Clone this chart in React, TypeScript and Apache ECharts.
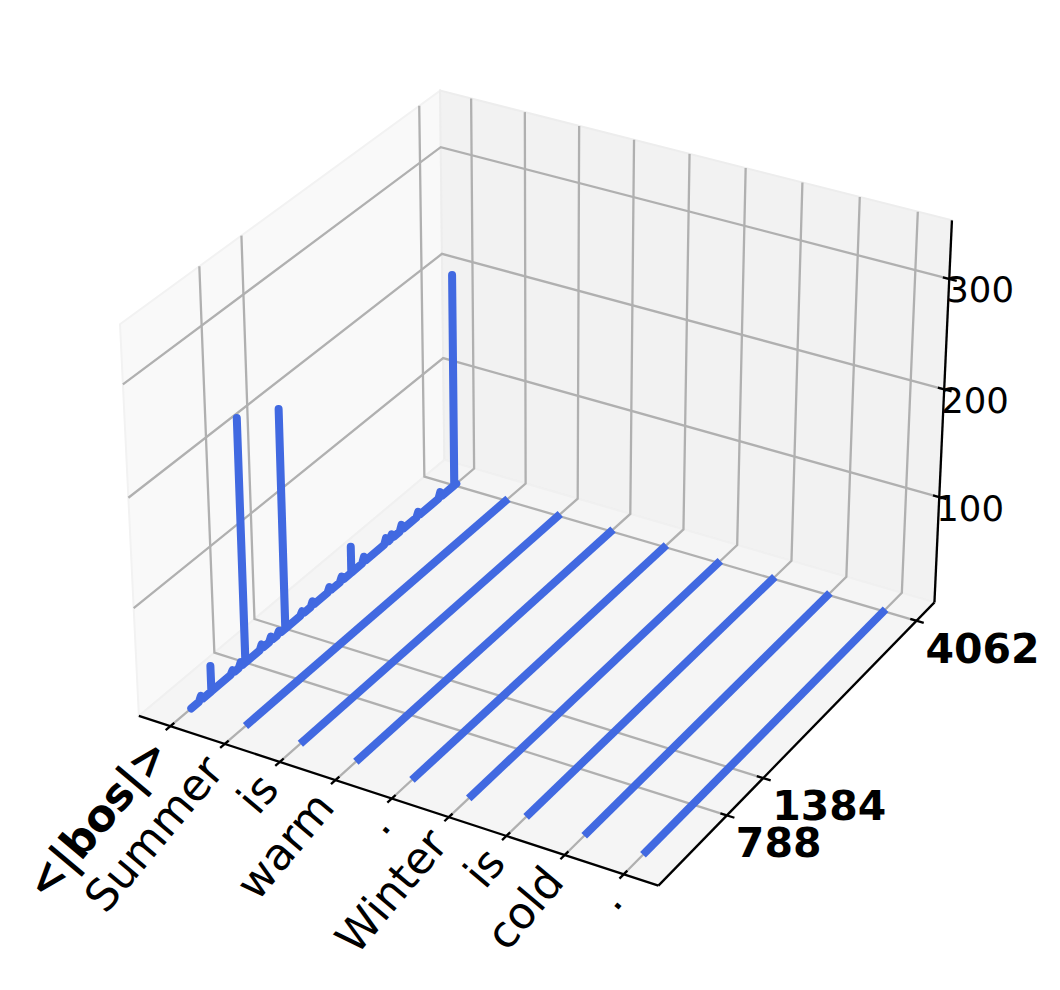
import React, { useEffect, useRef } from "react";
import * as echarts from "echarts";

// ---- data ----
const tokens = ["<|bos|>", "Summer", "is", "warm", ".", "Winter", "is", "cold", "."];
const boldTokens = [0];
const neuronTicks = [788, 1384, 4062];
const valueTicks = [100, 200, 300];
const neuronFirst = 0;
const neuronLast = 4096;
const spikeNeurons = [140, 290, 600, 720, 788, 1030, 1170, 1290, 1384, 1640, 1800, 2060, 2250, 2400, 2600, 2950, 3040, 3200, 3470, 3830, 4062];
const spikeValues = [4, 24, 3, 4, 226, 4, 4, 3, 205, 3, 4, 4, 4, 25, 5, 5, 4, 5, 4, 5, 203];

// ---- limits of the 3D box ----
const xLim = [-0.583, 8.583];
const yLim = [-299, 4394];
const zLim = [0, 352];

// ---- matplotlib-style perspective camera (elev 30, azim -60) ----
const HALF = [0.5952, 0.5952, 0.4464];
const DIST = 10;
const SCALE = 500;
const CX = 544;
const CY = 469;
const el = (30 * Math.PI) / 180;
const az = (-60 * Math.PI) / 180;
const W = [Math.cos(el) * Math.cos(az), Math.cos(el) * Math.sin(az), Math.sin(el)];
const U = [-Math.sin(az), Math.cos(az), 0];
const V = [W[1] * U[2] - W[2] * U[1], W[2] * U[0] - W[0] * U[2], W[0] * U[1] - W[1] * U[0]];
const dot = (a: number[], b: number[]) => a[0] * b[0] + a[1] * b[1] + a[2] * b[2];

function project(x: number, y: number, z: number): [number, number] {
  const p = [
    ((x - xLim[0]) / (xLim[1] - xLim[0]) - 0.5) * 2 * HALF[0],
    ((y - yLim[0]) / (yLim[1] - yLim[0]) - 0.5) * 2 * HALF[1],
    ((z - zLim[0]) / (zLim[1] - zLim[0]) - 0.5) * 2 * HALF[2],
  ];
  const f = DIST / (DIST - dot(p, W));
  return [CX + SCALE * dot(p, U) * f, CY - SCALE * dot(p, V) * f];
}

const [x0, x1] = xLim;
const [y0, y1] = yLim;
const [z0, z1] = zLim;
const xSpan = x1 - x0;
const ySpan = y1 - y0;

function lineSeries(points: [number, number][], color: string, width: number, z: number, cap = "butt") {
  return {
    type: "line",
    data: points,
    symbol: "none",
    silent: true,
    clip: false,
    z,
    animation: false,
    lineStyle: { color, width, cap, join: cap === "round" ? "round" : "miter", opacity: 1 },
  };
}

function pane(corners: [number, number, number][], fill: string, stroke: string) {
  return {
    type: "custom",
    coordinateSystem: "cartesian2d",
    silent: true,
    clip: false,
    z: 1,
    data: [[0, 0]],
    renderItem: (_: any, api: any) => ({
      type: "polygon",
      shape: { points: corners.map((c) => api.coord(project(c[0], c[1], c[2]))) },
      style: { fill, stroke, lineWidth: 2 },
    }),
  };
}

type Label = {
  text: string;
  at: [number, number];
  rotation?: number;
  align: string;
  size: number;
  bold: boolean;
};

function labelSeries(labels: Label[]) {
  return {
    type: "custom",
    coordinateSystem: "cartesian2d",
    silent: true,
    clip: false,
    z: 6,
    data: labels.map((_, i) => [i, 0]),
    renderItem: (params: any, api: any) => {
      const l = labels[params.dataIndex];
      const [px, py] = api.coord(l.at);
      return {
        type: "text",
        x: px,
        y: py,
        rotation: l.rotation || 0,
        style: {
          text: l.text,
          fontFamily: "DejaVu Sans",
          fontSize: l.size,
          fontWeight: l.bold ? "bold" : "normal",
          fill: "#000000",
          align: l.align,
          verticalAlign: "middle",
        },
      };
    },
  };
}

function buildOption() {
  const series: any[] = [];

  // panes
  series.push(pane([[x0, y0, z0], [x0, y1, z0], [x0, y1, z1], [x0, y0, z1]], "#f9f9f9", "#f2f2f2"));
  series.push(pane([[x0, y1, z0], [x1, y1, z0], [x1, y1, z1], [x0, y1, z1]], "#f2f2f2", "#ededed"));
  series.push(pane([[x0, y0, z0], [x1, y0, z0], [x1, y1, z0], [x0, y1, z0]], "#f5f5f5", "#f0f0f0"));

  // grid lines
  const grid = "#b0b0b0";
  tokens.forEach((_, i) => {
    series.push(lineSeries([project(i, y0, z0), project(i, y1, z0), project(i, y1, z1)], grid, 2.3, 2));
  });
  neuronTicks.forEach((n) => {
    series.push(lineSeries([project(x1, n, z0), project(x0, n, z0), project(x0, n, z1)], grid, 2.3, 2));
  });
  valueTicks.forEach((v) => {
    series.push(lineSeries([project(x0, y0, v), project(x0, y1, v), project(x1, y1, v)], grid, 2.3, 2));
  });

  // activation lines, one per token
  const lineW = 8;
  tokens.forEach((_, i) => {
    if (i === 0) {
      const pts: [number, number][] = [project(i, neuronFirst, 0)];
      spikeNeurons.forEach((n, k) => {
        const v = spikeValues[k];
        const flank = v < 10 ? 30 : 1;
        pts.push(project(i, n - flank, 0), project(i, n, v), project(i, n + flank, 0));
      });
      pts.push(project(i, neuronLast, 0));
      series.push(lineSeries(pts, "#4169e1", lineW, 3, "round"));
    } else {
      series.push(lineSeries([project(i, neuronFirst, 0), project(i, neuronLast, 0)], "#4169e1", lineW, 3));
    }
  });

  // axis lines
  const black = "#000000";
  series.push(lineSeries([project(x0, y0, z0), project(x1, y0, z0)], black, 2.3, 4));
  series.push(lineSeries([project(x1, y0, z0), project(x1, y1, z0)], black, 2.3, 4));
  series.push(lineSeries([project(x1, y1, z0), project(x1, y1, z1)], black, 2.3, 4));

  // tick marks
  const tIn = 0.012;
  const tOut = 0.014;
  tokens.forEach((_, i) => {
    series.push(lineSeries([project(i, y0 + tIn * ySpan, z0), project(i, y0 - tOut * ySpan, z0)], black, 2.3, 4));
  });
  neuronTicks.forEach((n) => {
    series.push(lineSeries([project(x1 - tIn * xSpan, n, z0), project(x1 + tOut * xSpan, n, z0)], black, 2.3, 4));
  });
  valueTicks.forEach((v) => {
    series.push(lineSeries([project(x1 - tIn * xSpan, y1, v), project(x1 + tOut * xSpan, y1, v)], black, 2.3, 4));
  });

  // tick labels
  const labels: Label[] = [];
  const rot = (50 * Math.PI) / 180;
  tokens.forEach((t, i) => {
    const p = project(i, y0, z0);
    labels.push({
      text: t,
      at: [p[0] - 11, p[1] + 18],
      rotation: rot,
      align: "right",
      size: 44,
      bold: boldTokens.includes(i),
    });
  });
  neuronTicks.forEach((n) => {
    const p = project(x1, n, z0);
    labels.push({ text: String(n), at: [p[0] + 9, p[1] + 28], align: "left", size: 41, bold: true });
  });
  valueTicks.forEach((v) => {
    const p = project(x1, y1, v);
    labels.push({ text: String(v), at: [p[0] - 3, p[1] + 11], align: "left", size: 35.5, bold: false });
  });
  series.push(labelSeries(labels));

  return {
    animation: false,
    backgroundColor: "#ffffff",
    grid: { left: 0, top: 0, width: 1060, height: 990, containLabel: false },
    xAxis: { type: "value", min: 0, max: 1060, show: false },
    yAxis: { type: "value", min: 0, max: 990, inverse: true, show: false },
    series,
  };
}

export default function App() {
  const ref = useRef<HTMLDivElement>(null);
  useEffect(() => {
    if (!ref.current) return;
    const chart = echarts.init(ref.current, undefined, { renderer: "svg" });
    chart.setOption(buildOption() as any);
    return () => chart.dispose();
  }, []);
  return <div ref={ref} style={{ position: "absolute", left: 0, top: 0, width: 1060, height: 990 }} />;
}
